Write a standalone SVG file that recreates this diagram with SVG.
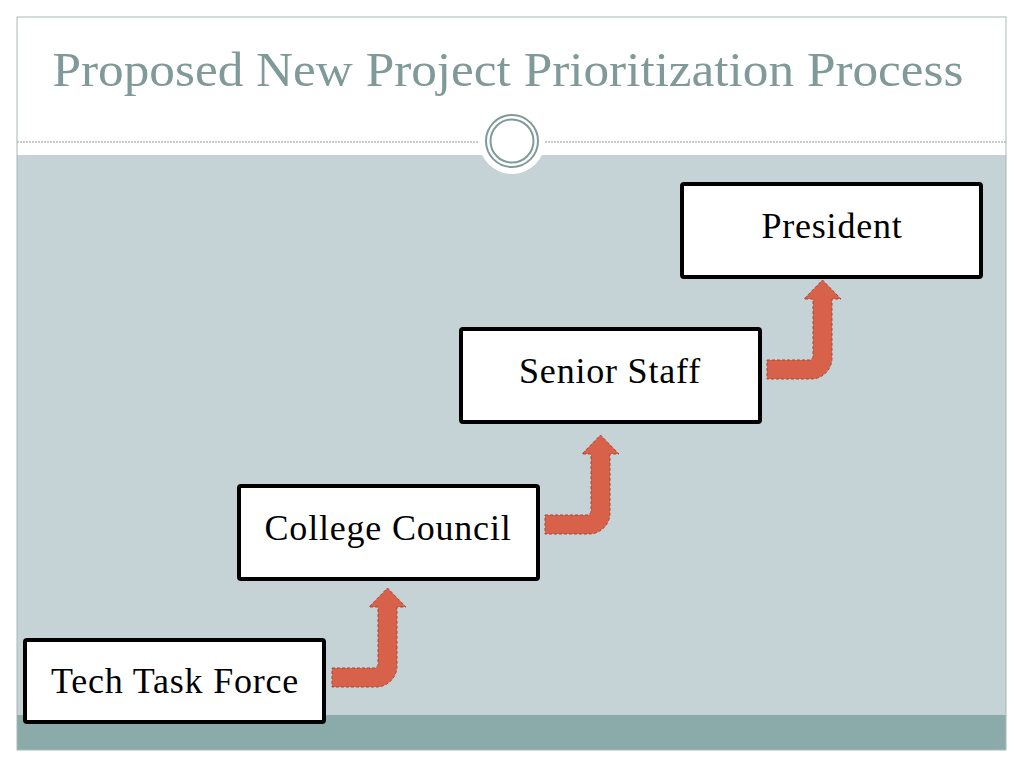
<svg xmlns="http://www.w3.org/2000/svg" width="1024" height="768" viewBox="0 0 1024 768">
<style>
.box{fill:#FFFFFF;stroke:#000000;stroke-width:4}
.lbl{font-family:"Liberation Serif","DejaVu Serif",serif;font-size:36px;letter-spacing:0.8px;fill:#000000;text-anchor:middle}
.arrow{fill:#D8614A;stroke:#A94632;stroke-width:1;stroke-dasharray:3,2}
</style>
<defs>
<path id="bend" d="M0,0 H42 A4,4 0 0 0 46,-4 V-61 H37 L55.5,-80 L74,-61 H65 V-2 A21,21 0 0 1 44,19 H0 Z"/>
</defs>
<rect x="0" y="0" width="1024" height="768" fill="#FFFFFF"/>
<g id="background">
<rect x="17" y="155" width="989" height="560" fill="#C5D2D6"/>
<rect x="17" y="715" width="989" height="35" fill="#8BABAA"/>
<rect x="17" y="17" width="989" height="733" fill="none" stroke="#A9B8B8" stroke-width="1"/>
<line x1="17" y1="142" x2="1006" y2="142" stroke="#999999" stroke-width="1" stroke-dasharray="2,1"/>
<circle cx="512" cy="141" r="33" fill="#FFFFFF"/>
<circle cx="512" cy="141" r="26" fill="none" stroke="#7F9A98" stroke-width="2"/>
<circle cx="512" cy="141" r="21.5" fill="none" stroke="#7F9A98" stroke-width="2"/>
</g>
<text x="508" y="86" font-family="Liberation Serif, DejaVu Serif, serif" font-size="49" fill="#7F9A98" text-anchor="middle" textLength="911" lengthAdjust="spacingAndGlyphs">Proposed New Project Prioritization Process</text>
<g id="connectors">
<use href="#bend" class="arrow" transform="translate(332,668)"/>
<use href="#bend" class="arrow" transform="translate(545,515)"/>
<use href="#bend" class="arrow" transform="translate(767,360)"/>
</g>
<g id="node-tech">
<rect class="box" x="25" y="640" width="299" height="82" rx="2"/>
<text class="lbl" x="175" y="693">Tech Task Force</text>
</g>
<g id="node-council">
<rect class="box" x="239" y="486" width="299" height="93" rx="2"/>
<text class="lbl" x="388" y="540">College Council</text>
</g>
<g id="node-senior">
<rect class="box" x="461" y="329" width="299" height="93" rx="2"/>
<text class="lbl" x="610" y="383">Senior Staff</text>
</g>
<g id="node-president">
<rect class="box" x="682" y="184" width="299" height="93" rx="2"/>
<text class="lbl" x="832" y="238">President</text>
</g>
</svg>
